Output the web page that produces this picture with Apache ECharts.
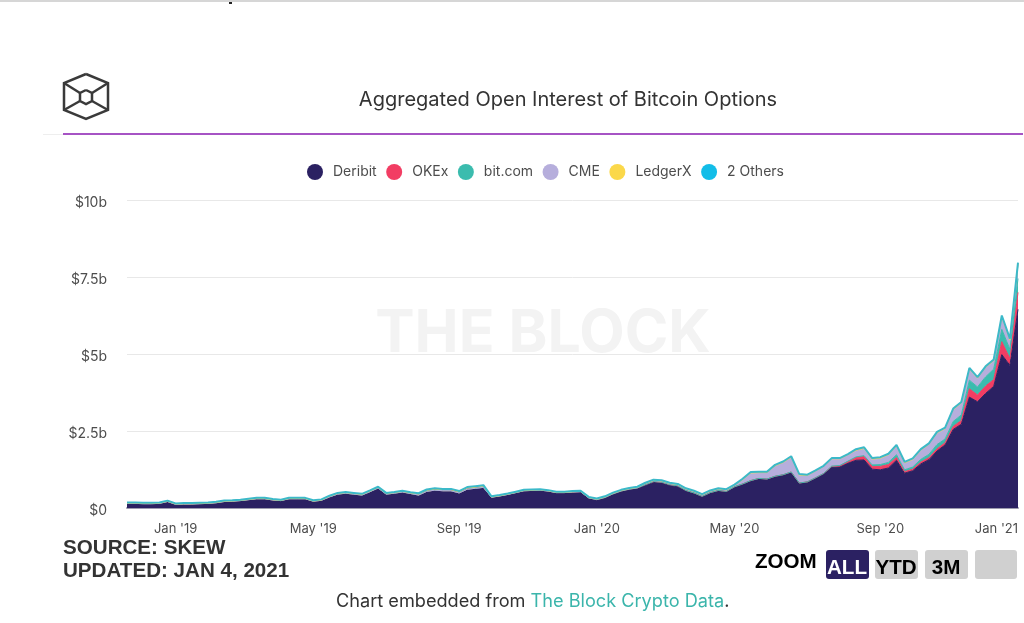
<!DOCTYPE html>
<html>
<head>
<meta charset="utf-8">
<style>
html, body { margin: 0; padding: 0; background: #fff; }
#chart { width: 1024px; height: 623px; }
</style>
<script src="https://cdn.jsdelivr.net/npm/echarts@6/dist/echarts.min.js"></script>
</head>
<body>
<div id="chart"></div>
<script>
var weeks = [
    "2018-11-25", "2018-12-02", "2018-12-09", "2018-12-16", "2018-12-23", "2018-12-30",
    "2019-01-06", "2019-01-13", "2019-01-20", "2019-01-27", "2019-02-03", "2019-02-10", "2019-02-17", "2019-02-24",
    "2019-03-03", "2019-03-10", "2019-03-17", "2019-03-24", "2019-03-31", "2019-04-07", "2019-04-14", "2019-04-21", "2019-04-28",
    "2019-05-05", "2019-05-12", "2019-05-19", "2019-05-26", "2019-06-02", "2019-06-09", "2019-06-16", "2019-06-23", "2019-06-30",
    "2019-07-07", "2019-07-14", "2019-07-21", "2019-07-28", "2019-08-04", "2019-08-11", "2019-08-18", "2019-08-25",
    "2019-09-01", "2019-09-08", "2019-09-15", "2019-09-22", "2019-09-29", "2019-10-06", "2019-10-13", "2019-10-20", "2019-10-27",
    "2019-11-03", "2019-11-10", "2019-11-17", "2019-11-24", "2019-12-01", "2019-12-08", "2019-12-15", "2019-12-22", "2019-12-29",
    "2020-01-05", "2020-01-12", "2020-01-19", "2020-01-26", "2020-02-02", "2020-02-09", "2020-02-16", "2020-02-23",
    "2020-03-01", "2020-03-08", "2020-03-15", "2020-03-22", "2020-03-29", "2020-04-05", "2020-04-12", "2020-04-19", "2020-04-26",
    "2020-05-03", "2020-05-10", "2020-05-17", "2020-05-24", "2020-05-31", "2020-06-07", "2020-06-14", "2020-06-21", "2020-06-28",
    "2020-07-05", "2020-07-12", "2020-07-19", "2020-07-26", "2020-08-02", "2020-08-09", "2020-08-16", "2020-08-23", "2020-08-30",
    "2020-09-06", "2020-09-13", "2020-09-20", "2020-09-27", "2020-10-04", "2020-10-11", "2020-10-18", "2020-10-25",
    "2020-11-01", "2020-11-08", "2020-11-15", "2020-11-22", "2020-11-29", "2020-12-06", "2020-12-13", "2020-12-20", "2020-12-27",
    "2021-01-03"
];
var tickDates = ["2019-01-06", "2019-05-05", "2019-09-08", "2020-01-05", "2020-05-03", "2020-09-06", "2021-01-03"];
var tickLabels = ["Jan '19", "May '19", "Sep '19", "Jan '20", "May '20", "Sep '20", "Jan '21"];
var yTicks = { 0: "$0", 2.5: "$2.5b", 5: "$5b", 7.5: "$7.5b", 10: "$10b" };

// billions of dollars
var deribit = [
    .15, .15, .14, .14, .15, .21, .12, .13, .13, .14, .15, .17, .21, .22, .24, .27, .30, .30, .26, .24,
    .30, .30, .30, .22, .25, .36, .45, .48, .45, .42, .53, .65, .45, .48, .52, .47, .41, .53, .57, .55,
    .55, .48, .60, .63, .66, .34, .38, .43, .49, .55, .56, .57, .54, .49, .49, .51, .52, .32, .26, .33,
    .45, .54, .60, .64, .73, .83, .81, .73, .69, .56, .48, .37, .49, .56, .53, .68, .77, .88, .95, .93,
    1.02, 1.07, 1.15, .80, .84, .97, 1.10, 1.32, 1.33, 1.45, 1.55, 1.56, 1.26, 1.24, 1.30, 1.55, 1.13, 1.21, 1.43, 1.57,
    1.85, 2.05, 2.55, 2.72, 3.60, 3.45, 3.72, 3.95, 4.98, 4.63, 6.45
];
var okex = [
    0, 0, 0, 0, 0, 0, 0, 0, 0, 0, 0, 0, 0, 0, 0, 0, 0, 0, 0, 0,
    0, 0, 0, 0, 0, 0, 0, 0, 0, 0, 0, 0, 0, 0, 0, 0, .01, .01, .01, .01,
    .01, .01, .01, .01, .01, .01, .01, .01, .01, .01, .01, .01, .01, .01, .01, .01, .01, .01, .01, .01,
    .01, .01, .01, .01, .03, .03, .03, .03, .03, .01, .01, .01, .01, .01, .01, .01, .01, .01, .01, .01,
    .01, .01, .02, .01, .01, .01, .02, .03, .04, .06, .09, .11, .09, .11, .11, .09, .05, .05, .06, .06,
    .07, .07, .10, .12, .27, .22, .24, .22, .42, .22, .55
];
var bitcom = [
    0, 0, 0, 0, 0, 0, 0, 0, 0, 0, 0, 0, 0, 0, 0, 0, 0, 0, 0, 0,
    0, 0, 0, 0, 0, 0, 0, 0, 0, 0, 0, 0, 0, 0, 0, 0, 0, 0, 0, 0,
    0, 0, 0, 0, 0, 0, 0, 0, 0, 0, 0, 0, 0, 0, 0, 0, 0, 0, 0, 0,
    0, 0, 0, 0, 0, 0, 0, 0, 0, 0, 0, 0, 0, 0, 0, 0, 0, 0, 0, 0,
    0, 0, 0, 0, 0, 0, 0, .01, .01, .01, .02, .03, .05, .06, .07, .09, .06, .07, .09, .11,
    .14, .12, .16, .18, .28, .26, .30, .34, .40, .30, .45
];
var cme = [
    0, 0, 0, 0, 0, 0, 0, 0, 0, 0, 0, 0, 0, 0, 0, 0, 0, 0, 0, 0,
    0, 0, 0, 0, 0, 0, 0, 0, 0, 0, 0, 0, 0, 0, 0, 0, 0, 0, 0, 0,
    0, 0, 0, 0, 0, 0, 0, 0, 0, 0, 0, 0, 0, 0, 0, 0, 0, 0, .01, .01,
    .01, .01, .01, .01, .03, .03, .03, .03, .03, .04, .04, .04, .04, .04, .04, .04, .13, .24, .18, .20,
    .33, .39, .47, .25, .20, .21, .22, .23, .21, .20, .19, .21, .17, .19, .23, .27, .21, .23, .28, .31,
    .36, .32, .37, .37, .35, .27, .29, .25, .39, .29, .46
];
var ledgerx = [
    .01, .01, .01, .01, .01, .01, .01, .01, .01, .01, .01, .01, .01, .01, .01, .01, .01, .01, .01, .01,
    .01, .01, .01, .01, .01, .02, .02, .02, .02, .02, .02, .02, .02, .02, .02, .02, .04, .04, .04, .04,
    .04, .04, .05, .05, .05, .01, .01, .01, .01, .01, .01, .01, .01, .01, .01, .01, .01, .01, .01, .01,
    .01, .01, .01, .01, .01, .01, .01, .01, .01, .01, .01, .01, .01, .01, .01, .01, .01, .01, .01, .01,
    .01, .01, .01, .01, .01, .01, .01, .01, .01, .01, .03, .03, .02, .02, .02, .02, .02, .02, .02, .02,
    .02, .02, .02, .02, .02, .02, .02, .03, .02, .02, .02
];
var others = [
    .02, .02, .02, .02, .02, .02, .02, .02, .02, .02, .02, .02, .02, .02, .02, .02, .02, .02, .02, .02,
    .02, .02, .02, .02, .02, .02, .02, .02, .02, .02, .02, .02, .02, .02, .02, .02, .02, .02, .02, .02,
    .02, .02, .02, .02, .02, .02, .02, .02, .02, .02, .02, .02, .02, .02, .02, .02, .02, .02, .02, .02,
    .02, .02, .02, .02, .02, .02, .02, .02, .02, .02, .02, .02, .02, .02, .02, .02, .03, .03, .03, .03,
    .03, .03, .03, .03, .02, .02, .02, .02, .02, .02, .03, .03, .03, .03, .03, .03, .03, .03, .03, .03,
    .03, .03, .03, .03, .03, .03, .03, .03, .04, .04, .04
];

var names = ["Deribit", "OKEx", "bit.com", "CME", "LedgerX", "2 Others"];
var values = [deribit, okex, bitcom, cme, ledgerx, others];
var colors = ["#2b2162", "#f23d63", "#3bbcae", "#b6aedc", "#fbd84a", "#12bde8"];

var series = [];
for (var i = 0; i < names.length; i++) {
    series.push({
        name: names[i],
        type: "line",
        stack: "oi",
        data: values[i],
        showSymbol: false,
        itemStyle: { color: colors[i] },
        lineStyle: { color: i == 5 ? "#3bb9c9" : colors[i], width: i == 5 ? 2 : 1 },
        areaStyle: { color: colors[i], opacity: 1 }
    });
}

// the cube logo
function logoLine(points) {
    return {
        type: "polyline",
        shape: { points: points },
        style: { fill: null, stroke: "#3a3a3a", lineWidth: 2.5 }
    };
}

function boxText(x, y, text, font, fill, align) {
    return {
        type: "text",
        x: x,
        y: y,
        style: { text: text, font: font, fill: fill, align: align || "left", verticalAlign: "middle" }
    };
}

function boxRect(x, y, width, height, fill) {
    return {
        type: "rect",
        shape: { x: x, y: y, width: width, height: height, r: 3 },
        style: { fill: fill }
    };
}

var boldFont = 'bold 20.6px "Liberation Sans"';
var footFont = '18.15px "Inter"';

var option = {
    animation: false,
    backgroundColor: "#fff",
    title: {
        text: "Aggregated Open Interest of Bitcoin Options",
        left: 563,
        top: 85,
        textAlign: "center",
        textStyle: { fontFamily: "Inter", fontSize: 20, fontWeight: "normal", color: "#333" }
    },
    legend: {
        data: names,
        left: 302,
        top: 159,
        icon: "circle",
        itemWidth: 16,
        itemHeight: 16,
        itemGap: 9.5,
        textStyle: { fontFamily: "Inter", fontSize: 14, color: "#4d4d4d", padding: [0, 0, 0, 5] }
    },
    grid: { left: 127, right: 6, top: 200, bottom: 115 },
    xAxis: {
        type: "category",
        data: weeks,
        boundaryGap: false,
        axisLine: { lineStyle: { color: "#9d9cae", width: 2 } },
        axisTick: { show: false },
        axisLabel: {
            interval: function(index, value) {
                return tickDates.indexOf(value) >= 0;
            },
            formatter: function(value) {
                return tickLabels[tickDates.indexOf(value)];
            },
            alignMaxLabel: "right",
            margin: 15,
            fontFamily: "Inter",
            fontSize: 13,
            color: "#4d4d4d"
        }
    },
    yAxis: {
        type: "value",
        min: 0,
        max: 10,
        interval: 2.5,
        axisLabel: {
            margin: 20,
            formatter: function(value) {
                return "{v|" + yTicks[value] + "}";
            },
            rich: {
                v: {
                    padding: [5, 0, 0, 0],
                    fontFamily: "Inter",
                    fontSize: 14,
                    color: "#4d4d4d"
                }
            }
        },
        splitLine: { lineStyle: { color: "#e8e8e8", width: 1 } }
    },
    series: series,
    graphic: [
        // page furniture
        { type: "rect", shape: { x: 0, y: 0, width: 1024, height: 2 }, style: { fill: "#d6d6d6" } },
        { type: "rect", shape: { x: 229, y: 2, width: 3, height: 2 }, style: { fill: "#222" } },
        { type: "rect", shape: { x: 43, y: 134, width: 20, height: 1 }, style: { fill: "#eee" } },
        { type: "rect", shape: { x: 63, y: 133, width: 960, height: 2 }, style: { fill: "#a653c4" } },
        {
            type: "text",
            x: 543,
            y: 334,
            z: -1,
            style: {
                text: "THE BLOCK",
                font: 'bold 59px "Inter"',
                fill: "#f3f3f3",
                align: "center",
                verticalAlign: "middle"
            }
        },
        logoLine([[86, 74], [108, 83], [108, 110], [86, 119], [64, 110], [64, 83], [86, 74]]),
        logoLine([[86, 90], [92, 93], [92, 101], [86, 104], [80, 101], [80, 93], [86, 90]]),
        logoLine([[64, 83], [80, 93]]),
        logoLine([[108, 83], [92, 93]]),
        logoLine([[64, 110], [80, 101]]),
        logoLine([[108, 110], [92, 101]]),
        // source note
        boxText(63, 548, "SOURCE: SKEW", boldFont, "#333"),
        boxText(63, 571, "UPDATED: JAN 4, 2021", boldFont, "#333"),
        // zoom buttons
        boxText(755, 562, "ZOOM", boldFont, "#000"),
        boxRect(826, 550, 43, 29, "#2b2162"),
        boxRect(875, 550, 43, 29, "#d0d0d0"),
        boxRect(925, 550, 43, 29, "#d0d0d0"),
        boxRect(975, 550, 42, 29, "#d0d0d0"),
        boxText(847, 568, "ALL", boldFont, "#fff", "center"),
        boxText(896, 568, "YTD", boldFont, "#000", "center"),
        boxText(946, 568, "3M", boldFont, "#000", "center"),
        // footer
        {
            type: "text",
            x: 336,
            y: 602,
            style: {
                text: "{a|Chart embedded from }{b|The Block Crypto Data}{a|.}",
                verticalAlign: "middle",
                rich: {
                    a: { font: footFont, fill: "#333" },
                    b: { font: footFont, fill: "#3bb5ab" }
                }
            }
        }
    ]
};

var myChart = echarts.init(document.getElementById("chart"));
myChart.setOption(option);
</script>
</body>
</html>
